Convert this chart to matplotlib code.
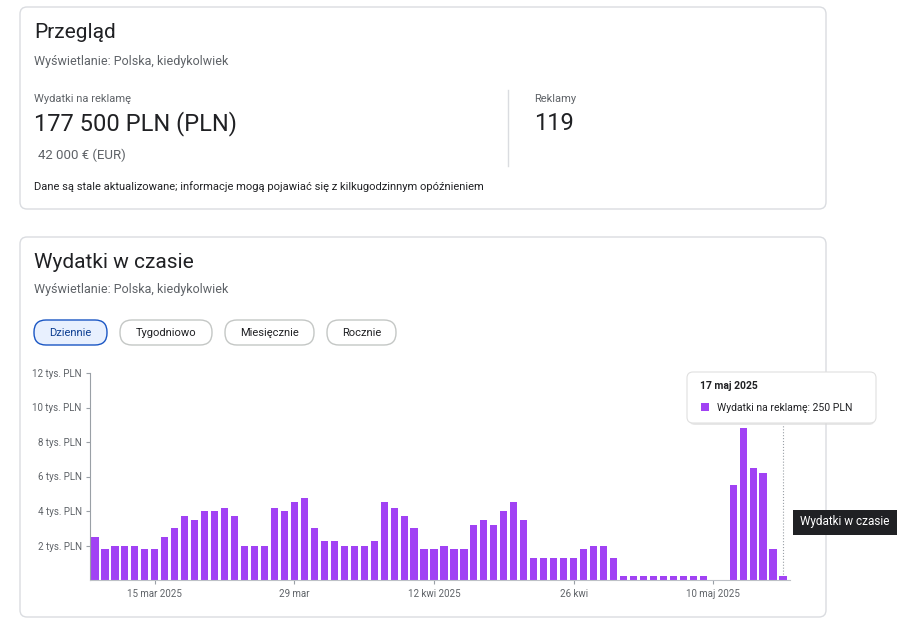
import numpy as np
import datetime as dt
import matplotlib
matplotlib.use('Agg')
import matplotlib.pyplot as plt
import matplotlib.dates as mdates
from matplotlib.patches import FancyBboxPatch, Rectangle

plt.rcParams['font.family'] = 'Roboto'

# daily spend, thousands PLN, 9 mar 2025 .. 17 maj 2025
start_date = dt.date(2025, 3, 9)
spend_k = [
    2.5, 1.8, 2.0, 2.0, 2.0, 1.8, 1.8, 2.5, 3.0, 3.7, 3.5, 4.0, 4.0, 4.2, 3.7,
    2.0, 2.0, 2.0, 4.2, 4.0, 4.5, 4.75, 3.0,                       # 9-31 mar
    2.25, 2.25, 2.0, 2.0, 2.0, 2.25, 4.5, 4.2, 3.7, 3.0, 1.8, 1.8, 2.0, 1.8,
    1.8, 3.2, 3.5, 3.2, 4.0, 4.5, 3.5, 1.3, 1.3, 1.3, 1.3, 1.3, 1.8, 2.0,
    2.0, 1.3,                                                      # kwi
    0.25, 0.25, 0.25, 0.25, 0.25, 0.25, 0.25, 0.25, 0.25, 0.0, 0.0,
    5.5, 8.8, 6.5, 6.2, 1.8, 0.25,                                 # maj
]
dates = [start_date + dt.timedelta(days=i) for i in range(len(spend_k))]
ytick_vals = [2, 4, 6, 8, 10, 12]
ytick_labels = ['2 tys. PLN', '4 tys. PLN', '6 tys. PLN', '8 tys. PLN', '10 tys. PLN', '12 tys. PLN']
xtick_dates = [dt.date(2025, 3, 15), dt.date(2025, 3, 29), dt.date(2025, 4, 12),
               dt.date(2025, 4, 26), dt.date(2025, 5, 10)]
xtick_labels = ['15 mar 2025', '29 mar', '12 kwi 2025', '26 kwi', '10 maj 2025']
periods = ['Dziennie', 'Tygodniowo', 'Miesięcznie', 'Rocznie']

W, H = 908, 634
fig = plt.figure(figsize=(W / 100, H / 100), dpi=100)
bg = fig.add_axes([0, 0, 1, 1])
bg.set_xlim(0, W)
bg.set_ylim(H, 0)
bg.axis('off')

TXT = '#202124'
SUB = '#5f6368'


def card(x0, y0, x1, y1):
    bg.add_patch(FancyBboxPatch((x0, y0), x1 - x0, y1 - y0, boxstyle='round,pad=0,rounding_size=7',
                                fc='white', ec='#dadce0', lw=1))


# -- card 1: overview --
card(20, 7, 826, 209)
bg.text(34, 32, 'Przegląd', fontsize=15, color=TXT, va='center')
bg.text(34, 61, 'Wyświetlanie: Polska, kiedykolwiek', fontsize=9, color=SUB, va='center')
bg.text(34, 99, 'Wydatki na reklamę', fontsize=8, color=SUB, va='center')
bg.text(34, 124, '177 500 PLN (PLN)', fontsize=17, color=TXT, va='center')
bg.text(38, 155, '42 000 € (EUR)', fontsize=9.5, color=SUB, va='center')
bg.plot([508, 508], [90, 166], color='#dadce0', lw=1)
bg.text(534, 99, 'Reklamy', fontsize=8, color=SUB, va='center')
bg.text(534, 124, '119', fontsize=17, color=TXT, va='center')
bg.text(34, 187, 'Dane są stale aktualizowane; informacje mogą pojawiać się z kilkugodzinnym opóźnieniem',
        fontsize=8, color=TXT, va='center')

# -- card 2: spend over time --
card(20, 237, 826, 617)
bg.text(34, 262, 'Wydatki w czasie', fontsize=15, color=TXT, va='center')
bg.text(34, 290, 'Wyświetlanie: Polska, kiedykolwiek', fontsize=9, color=SUB, va='center')
pill_x = [(34, 107), (120, 212), (225, 314), (327, 396)]
for i, (name, (a, b)) in enumerate(zip(periods, pill_x)):
    sel = i == 0
    bg.add_patch(FancyBboxPatch((a, 320), b - a, 25, boxstyle='round,pad=0,rounding_size=12',
                                fc='#e8f0fe' if sel else 'white',
                                ec='#1a56c4' if sel else '#c4c7c5', lw=1))
    bg.text((a + b) / 2, 333, name, fontsize=8, ha='center', va='center',
            color='#0b3d91' if sel else TXT)

# -- bar chart --
ax = fig.add_axes([90 / W, 1 - 580 / H, 700 / W, 207 / H])
x = mdates.date2num(dates)
ax.bar(x, spend_k, width=0.72, color='#a142f4', zorder=2)
ax.set_ylim(0, 12)
ax.set_xlim(x[0] - 0.5, x[-1] + 0.7)
ax.set_yticks(ytick_vals)
ax.set_yticklabels(ytick_labels)
ax.set_xticks(mdates.date2num(xtick_dates))
ax.set_xticklabels(xtick_labels)
ax.tick_params(axis='y', length=3, color='#9aa0a6', labelsize=7, labelcolor=SUB, pad=3)
ax.tick_params(axis='x', length=3, color='#9aa0a6', labelsize=7, labelcolor=SUB)
for s in ['top', 'right']:
    ax.spines[s].set_visible(False)
ax.spines['left'].set_color('#9aa0a6')
ax.spines['bottom'].set_color('#bdc1c6')
ax.patch.set_alpha(0)
ax.axvline(x[-1], ymin=0, ymax=0.75, color='#9aa0a6', ls=':', lw=0.8, zorder=1)

# tooltip for hovered bar
bg.add_patch(FancyBboxPatch((689, 375), 186, 50, boxstyle='round,pad=0,rounding_size=6',
                            fc='#d8d8d8', ec='none', alpha=0.6))
bg.add_patch(FancyBboxPatch((687, 372), 189, 51, boxstyle='round,pad=0,rounding_size=6',
                            fc='white', ec='#e0e0e0', lw=0.8))
bg.text(700, 386, '17 maj 2025', fontsize=7.5, fontweight='bold', color=TXT, va='center')
bg.add_patch(Rectangle((701, 403), 8, 8, fc='#a142f4'))
bg.text(717, 408, 'Wydatki na reklamę: 250 PLN', fontsize=7.5, color=TXT, va='center')

bg.add_patch(Rectangle((793, 510), 104, 25, fc='#202124'))
bg.text(845, 522, 'Wydatki w czasie', fontsize=8.5, color='white', ha='center', va='center')

fig.savefig('out.png', dpi=100)
